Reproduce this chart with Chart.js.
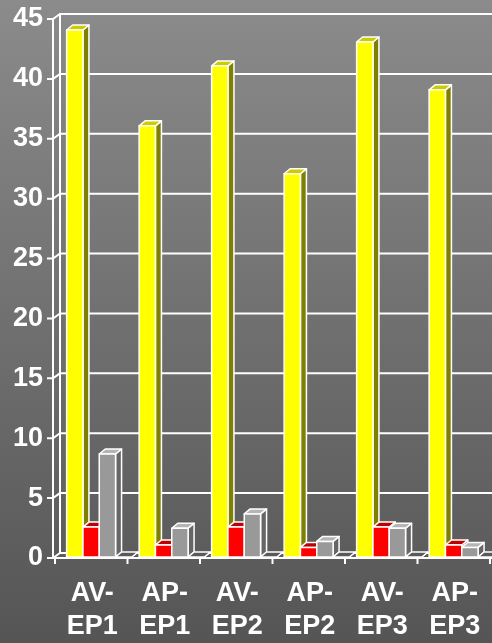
<!DOCTYPE html>
<html>
<head>
<meta charset="utf-8">
<script src="https://cdn.jsdelivr.net/npm/chart.js@4/dist/chart.umd.min.js"></script>
<style>
html, body { margin:0; padding:0; width:492px; height:643px; overflow:hidden; }
body { background: linear-gradient(#8b8b8b, #555555); }
#wrap { width:510px; height:643px; }
</style>
</head>
<body>
<div id="wrap"><canvas id="chart" width="510" height="643"></canvas></div>
<script>
/*************** Data ****************/
var categories = [["AV-", "EP1"], ["AP-", "EP1"], ["AV-", "EP2"], ["AP-", "EP2"], ["AV-", "EP3"], ["AP-", "EP3"]];
var yellowValues = [44, 36, 41, 32, 43, 39];
var redValues = [2.5, 1, 2.5, 0.8, 2.5, 1];
var greyValues = [8.6, 2.4, 3.6, 1.3, 2.4, 0.8];
var flatValues = [0, 0, 0, 0, 0, 0];
var yMax = 45, yStep = 5;

// colours for front / top / side of each series
var faces = [
    ["#ffff00", "#cccc00", "#808000"],
    ["#ff0000", "#c00000", "#800000"],
    ["#999999", "#b5b5b5", "#666666"],
    ["#5a5a5a", "#5a5a5a", "#4a4a4a"]
];
var DX = 6, DY = -5;          // depth of the bars
var WALL = 7, BACK = -4, FRONT = 1; // 3d box offsets

/*************** Plugins ****************/
var box3d = {
    id: "box3d",
    beforeDatasetsDraw: function (chart) {
        var ctx = chart.ctx, y = chart.scales.y;
        var a = chart.chartArea;
        var fx = a.left - 10, bx = fx + WALL;
        ctx.save();
        ctx.strokeStyle = "#ffffff";
        ctx.lineWidth = 2;
        y.ticks.forEach(function (t) {
            var py = y.getPixelForValue(t.value);
            ctx.beginPath();
            ctx.moveTo(fx - 6, py + FRONT);
            ctx.lineTo(fx, py + FRONT);
            ctx.lineTo(bx, py + BACK);
            ctx.lineTo(chart.width, py + BACK);
            ctx.stroke();
        });
        var top = y.getPixelForValue(yMax), bot = y.getPixelForValue(0);
        ctx.beginPath();
        ctx.moveTo(fx, top + FRONT); ctx.lineTo(fx, bot + FRONT);
        ctx.moveTo(bx, top + BACK); ctx.lineTo(bx, bot + BACK);
        ctx.moveTo(fx, bot + FRONT); ctx.lineTo(chart.width, bot + FRONT);
        ctx.stroke();
        // x ticks on the front edge
        var step = (a.right - a.left) / categories.length;
        for (var k = 0; k <= categories.length; k++) {
            var px = a.left + k * step - 8;
            ctx.beginPath();
            ctx.moveTo(px, bot + FRONT);
            ctx.lineTo(px, bot + FRONT + 6);
            ctx.stroke();
        }
        ctx.restore();
    },
    afterDatasetsDraw: function (chart) {
        var ctx = chart.ctx;
        ctx.save();
        ctx.strokeStyle = "#ffffff";
        ctx.lineWidth = 1.5;
        ctx.lineJoin = "round";
        for (var i = 0; i < categories.length; i++) {
            for (var d = 0; d < chart.data.datasets.length; d++) {
                var el = chart.getDatasetMeta(d).data[i];
                var p = el.getProps(["x", "y", "base", "width"], true);
                var l = p.x - p.width / 2, r = p.x + p.width / 2;
                var t = Math.min(p.y, p.base), b = Math.max(p.y, p.base);
                var c = faces[d];
                // side
                ctx.fillStyle = c[2];
                ctx.beginPath();
                ctx.moveTo(r, t); ctx.lineTo(r + DX, t + DY);
                ctx.lineTo(r + DX, b + DY); ctx.lineTo(r, b);
                ctx.closePath(); ctx.fill(); ctx.stroke();
                // top
                ctx.fillStyle = c[1];
                ctx.beginPath();
                ctx.moveTo(l, t); ctx.lineTo(l + DX, t + DY);
                ctx.lineTo(r + DX, t + DY); ctx.lineTo(r, t);
                ctx.closePath(); ctx.fill(); ctx.stroke();
                // front
                if (b - t > 0.5) {
                    ctx.fillStyle = c[0];
                    ctx.fillRect(l, t, r - l, b - t);
                    ctx.strokeRect(l, t, r - l, b - t);
                }
            }
        }
        ctx.restore();
    }
};

/*************** Creating chart ****************/
var tickFont = { family: "'Liberation Sans', Arial, sans-serif", weight: "bold" };

function makeSet(values, i) {
    return { data: values, backgroundColor: faces[i][0], borderWidth: 0 };
}

var chart = new Chart(document.getElementById("chart"), {
    type: "bar",
    data: {
        labels: categories,
        datasets: [makeSet(yellowValues, 0), makeSet(redValues, 1), makeSet(greyValues, 2), makeSet(flatValues, 3)]
    },
    plugins: [box3d],
    options: {
        responsive: false,
        animation: false,
        layout: { padding: { top: 18, right: 12, left: 0, bottom: 0 } },
        datasets: { bar: { categoryPercentage: 0.9, barPercentage: 1 } },
        plugins: { legend: { display: false }, tooltip: { enabled: false } },
        scales: {
            x: {
                grid: { display: false, drawTicks: false },
                border: { display: false },
                afterFit: function (s) { s.height = 86; s.paddingLeft = 0; s.paddingRight = 0; },
                ticks: {
                    color: "#ffffff",
                    padding: 20,
                    labelOffset: -7,
                    maxRotation: 0,
                    font: Object.assign({ size: 27, lineHeight: 1.22 }, tickFont)
                }
            },
            y: {
                min: 0,
                max: yMax,
                grid: { display: false, drawTicks: false },
                border: { display: false },
                afterFit: function (s) { s.width = 63; s.paddingTop = 0; s.paddingBottom = 0; },
                ticks: {
                    stepSize: yStep,
                    color: "#ffffff",
                    padding: 20,
                    labelOffset: 1,
                    font: Object.assign({ size: 27 }, tickFont)
                }
            }
        }
    }
});
</script>
</body>
</html>
